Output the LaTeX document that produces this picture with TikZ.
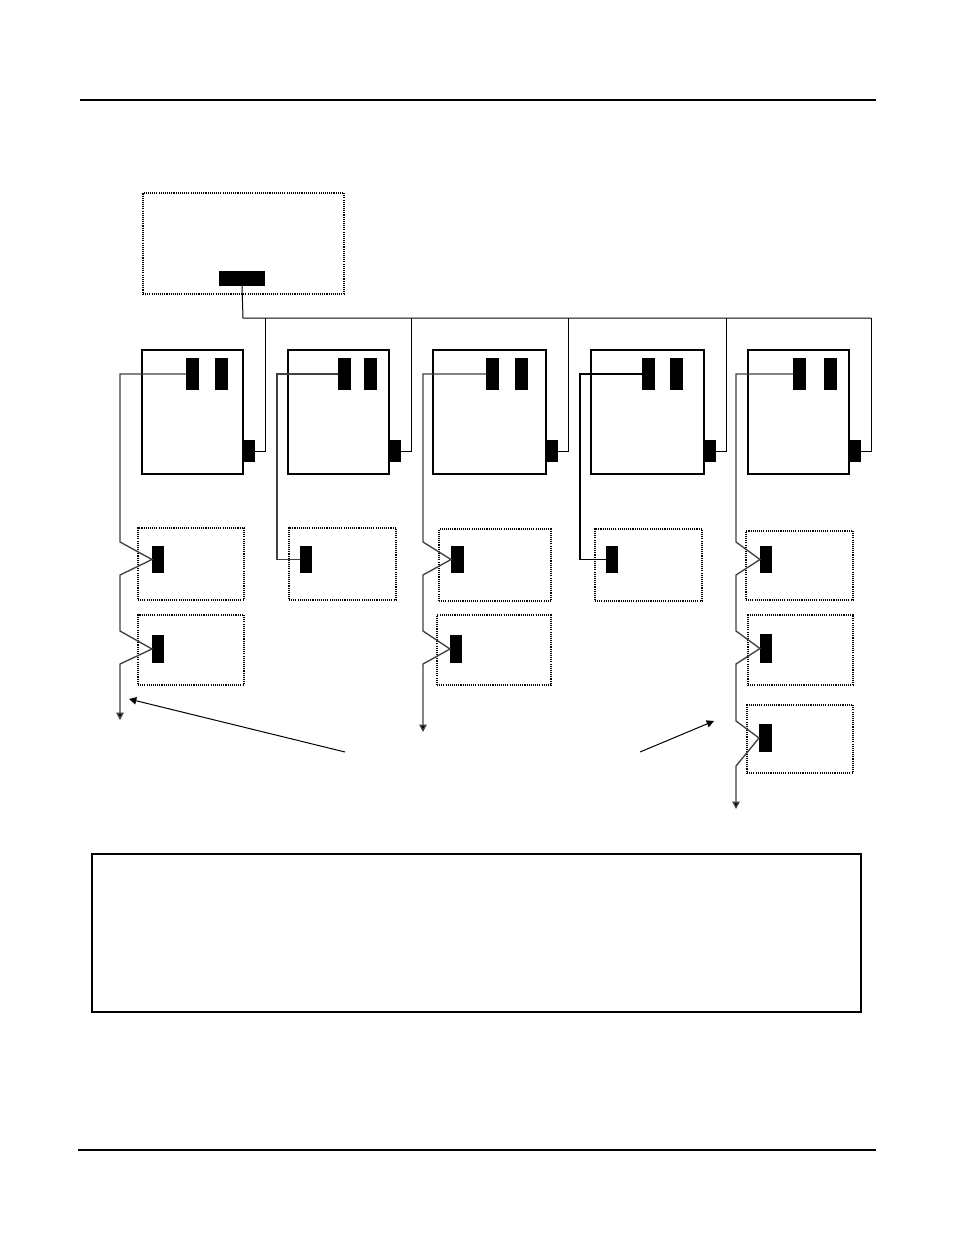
\documentclass[tikz,border=0pt]{standalone}
\usetikzlibrary{arrows.meta,calc}
\tikzset{
  card/.style 2 args={draw, line width=1pt, inner sep=0pt, outer sep=0pt, anchor=north west,
    minimum width=#1*0.75pt, minimum height=#2*0.75pt},
  dotcard/.style 2 args={card={#1}{#2}, line width=0.9pt, dash pattern=on 0.8pt off 0.8pt},
  jack/.style 2 args={fill=black, inner sep=0pt, outer sep=0pt, anchor=north west,
    minimum width=#1*0.75pt, minimum height=#2*0.75pt},
  wire/.style={line width=0.75pt},
  sigwire/.style={line width=1pt, draw=black!75},
  tip/.style={-{Triangle[length=5.5pt,width=5.5pt,fill=black]}},
}

\begin{document}
\begin{tikzpicture}[x=0.75pt,y=-0.75pt]
\useasboundingbox (0,0) rectangle (954,1235);
% page rules
\draw[line width=2.2pt] (80,100) -- (876,100);
\draw[line width=2.2pt] (78,1150) -- (876,1150);

% master unit and bus
\node[dotcard={201}{101}] (master) at (143,193) {};
\node[jack={46}{15}] (masterport) at (219,271) {};
\coordinate (bus) at (243,318);

% upper cards
\foreach \n/\x/\w/\pa/\pb/\sx in {1/142/101/44/73/120, 2/288/101/50/76/277,
    3/433/113/53/82/423, 4/591/113/51/79/580, 5/748/101/45/76/736}{
  \node[card={\w}{124}] (card\n) at (\x,350) {};
  \node[jack={13}{32}] (in\n) at (\x+\pa,358) {};
  \node[jack={13}{32}] (aux\n) at (\x+\pb,358) {};
  \node[jack={12}{22}] (link\n) at (\x+\w,440) {};
  \draw[wire] (link\n.east) -- ++(10,0) coordinate (drop\n) -- (drop\n |- bus);
  \coordinate (tap\n) at (\sx,374);
}
\draw[wire] (masterport.south) -- (bus) -- (drop5 |- bus);

% column 1
\node[dotcard={106}{72}] (unit1a) at (138,528) {};
\node[jack={12}{27}] (jack1a) at (152,546) {};
\node[dotcard={106}{70}] (unit1b) at (138,615) {};
\node[jack={12}{28}] (jack1b) at (152,635) {};
\coordinate (end1) at (120,720);
\draw[sigwire, tip] (in1.west) -- (tap1) -- (120,542) -- (jack1a.west) -- (120,575)
  -- (120,631) -- (jack1b.west) -- (120,664) -- (end1);

% column 2
\node[dotcard={107}{72}] (unit2a) at (289,528) {};
\node[jack={12}{27}] (jack2a) at (300,546) {};
\draw[sigwire] (in2.west) -- (tap2) |- (jack2a.west);

% column 3
\node[dotcard={112}{72}] (unit3a) at (439,529) {};
\node[jack={13}{27}] (jack3a) at (451,546) {};
\node[dotcard={114}{70}] (unit3b) at (437,615) {};
\node[jack={12}{28}] (jack3b) at (450,635) {};
\coordinate (end3) at (423,732);
\draw[sigwire, tip] (in3.west) -- (tap3) -- (423,542) -- (jack3a.west) -- (423,575)
  -- (423,631) -- (jack3b.west) -- (423,664) -- (end3);

% column 4
\node[dotcard={107}{72}] (unit4a) at (595,529) {};
\node[jack={12}{27}] (jack4a) at (606,546) {};
\draw[wire, line width=1.2pt] (in4.west) -- (tap4) |- (jack4a.west);

% column 5
\node[dotcard={107}{69}] (unit5a) at (746,531) {};
\node[jack={12}{27}] (jack5a) at (760,546) {};
\node[dotcard={105}{70}] (unit5b) at (748,615) {};
\node[jack={12}{29}] (jack5b) at (760,634) {};
\node[dotcard={106}{68}] (unit5c) at (747,705) {};
\node[jack={13}{28}] (jack5c) at (759,724) {};
\coordinate (end5) at (736,809);
\draw[sigwire, tip] (in5.west) -- (tap5) -- (736,542) -- (jack5a.west) -- (736,575)
  -- (736,631) -- (jack5b.west) -- (736,664) -- (736,721) -- (jack5c.west)
  -- (736,766) -- (end5);

% pointers
\coordinate (noteL) at (345,752);
\coordinate (aimL) at (129,699);
\coordinate (noteR) at (640,752);
\coordinate (aimR) at (714,721);
\draw[wire, tip] (noteL) -- (aimL);
\draw[wire, tip] (noteR) -- (aimR);

% notes frame
\node[card={769}{158}] (notes) at (92,854) {};
\end{tikzpicture}
\end{document}
